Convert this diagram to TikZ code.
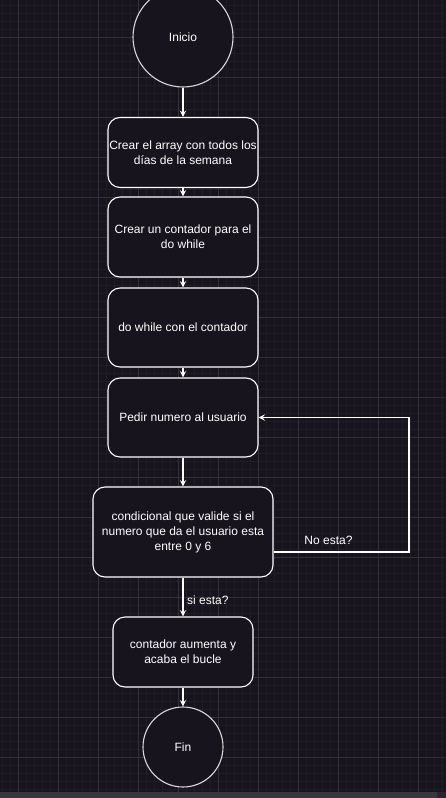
\documentclass[tikz,border=0pt]{standalone}
\usepackage{fontspec}
\setmainfont{Liberation Sans}
\usetikzlibrary{arrows.meta}
\definecolor{bg}{HTML}{18141D}
\definecolor{gridminor}{HTML}{211D27}
\definecolor{gridmajor}{HTML}{34303A}
\definecolor{barcol}{HTML}{3A3640}
\definecolor{barend}{HTML}{2A2630}
\definecolor{circline}{HTML}{D8D8D8}
\begin{document}
\begin{tikzpicture}[x=1pt,y=-1pt,
  every node/.style={font=\fontsize{12}{15}\selectfont, text=white},
  stepbox/.style={draw=white, fill=bg, rounded corners=12pt, line width=1.1pt, align=center, inner sep=0pt},
  endcirc/.style={draw=circline, fill=bg, circle, line width=1.1pt, inner sep=0pt},
  conn/.style={draw=white, line width=1.1pt, -{Stealth[length=6.5pt,width=6.5pt,inset=2.5pt]}},
  lbl/.style={inner sep=0pt}]
\useasboundingbox (0,0) rectangle (446,798);
\fill[bg] (0,0) rectangle (446,798);
\begin{scope}
\clip (0,0) rectangle (446,792);
\foreach \x in {2,10,...,446} \draw[gridminor, line width=0.8pt] (\x,0) -- (\x,798);
\foreach \y in {5,13,...,798} \draw[gridminor, line width=0.8pt] (0,\y) -- (446,\y);
\foreach \x in {18,58,...,446} \draw[gridmajor, line width=0.8pt] (\x,0) -- (\x,798);
\foreach \y in {37,77,...,798} \draw[gridmajor, line width=0.8pt] (0,\y) -- (446,\y);
\end{scope}
\fill[barcol] (0,792) rectangle (437,798);
\fill[barend] (437,792) rectangle (446,798);

\node[endcirc, minimum size=100pt] (ini) at (183,37) {Inicio};
\node[stepbox, minimum width=150pt, minimum height=70pt] (b1) at (183,152.5) {Crear el array con todos los\\días de la semana};
\node[stepbox, minimum width=150pt, minimum height=80pt] (b2) at (183,237) {Crear un contador para el\\do while};
\node[stepbox, minimum width=150pt, minimum height=79pt] (b3) at (183,327.5) {do while con el contador};
\node[stepbox, minimum width=150pt, minimum height=79pt] (b4) at (183,417.5) {Pedir numero al usuario};
\node[stepbox, minimum width=180pt, minimum height=90pt] (b5) at (183,532) {condicional que valide si el\\numero que da el usuario esta\\entre 0 y 6};
\node[stepbox, minimum width=140pt, minimum height=70pt] (b6) at (183,652) {contador aumenta y\\acaba el bucle};
\node[endcirc, minimum size=80pt] (fin) at (183,747) {Fin};

\draw[conn] (ini) -- (b1);
\draw[conn] (b1) -- (b2);
\draw[conn] (b2) -- (b3);
\draw[conn] (b3) -- (b4);
\draw[conn] (b4) -- (b5);
\draw[conn] (b5) -- (b6);
\draw[conn] (b6) -- (fin);
\coordinate (lp) at (409,552);
\draw[conn] (b5.east |- lp) -- (lp) |- (b4.east);

\node[lbl, anchor=center] (no) at (328.5,540) {No esta?};
\node[lbl, anchor=west] (si) at (187,600) {si esta?};
\end{tikzpicture}
\end{document}
